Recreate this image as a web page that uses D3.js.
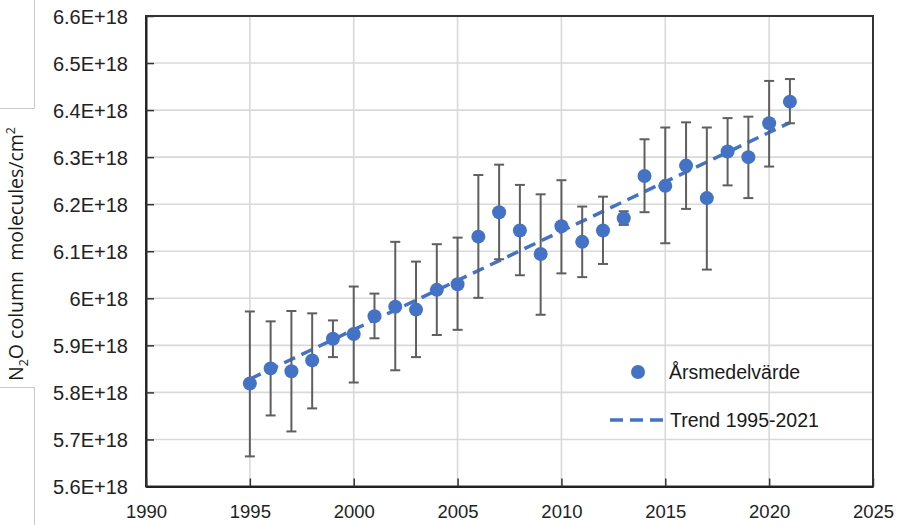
<!DOCTYPE html>
<html>
<head>
<meta charset="utf-8">
<script src="https://cdn.jsdelivr.net/npm/d3@7"></script>
<style>
  html, body { margin: 0; padding: 0; background: #fff; }
  svg { display: block; }
</style>
</head>
<body>
<svg id="chart" width="898" height="525"></svg>
<script>
// Annual mean N2O total column (units of 1e18 molecules/cm2) with error bars
const years = [1995, 1996, 1997, 1998, 1999, 2000, 2001, 2002, 2003, 2004, 2005, 2006, 2007,
               2008, 2009, 2010, 2011, 2012, 2013, 2014, 2015, 2016, 2017, 2018, 2019, 2020, 2021];
const annualMean = [5.819, 5.851, 5.845, 5.868, 5.914, 5.924, 5.962, 5.982, 5.976, 6.018, 6.030, 6.131, 6.183,
                    6.144, 6.094, 6.153, 6.120, 6.144, 6.170, 6.260, 6.239, 6.282, 6.213, 6.312, 6.300, 6.372, 6.418];
const errHigh = [5.972, 5.951, 5.973, 5.968, 5.953, 6.025, 6.010, 6.120, 6.078, 6.115, 6.129, 6.262, 6.284,
                 6.241, 6.221, 6.251, 6.195, 6.216, 6.185, 6.338, 6.363, 6.374, 6.363, 6.383, 6.386, 6.462, 6.466];
const errLow = [5.664, 5.751, 5.717, 5.766, 5.875, 5.821, 5.915, 5.847, 5.875, 5.922, 5.933, 6.001, 6.083,
                6.049, 5.965, 6.053, 6.045, 6.073, 6.156, 6.183, 6.117, 6.190, 6.061, 6.240, 6.213, 6.280, 6.372];

const xTicks = [1990, 1995, 2000, 2005, 2010, 2015, 2020, 2025];
const yTicks = [5.6, 5.7, 5.8, 5.9, 6.0, 6.1, 6.2, 6.3, 6.4, 6.5, 6.6];
const legendLabels = ["Årsmedelvärde", "Trend 1995-2021"];

const blue = "#4472C4";
const svg = d3.select("#chart");

const x = d3.scaleLinear().domain([1990, 2025]).range([146, 873]);
const y = d3.scaleLinear().domain([5.6, 6.6]).range([486.5, 16]);

const fmtY = v => (Math.round(v * 10) / 10) + "E+18";

// Gridlines
svg.append("g").selectAll("line.h").data(yTicks.slice(1, -1)).join("line")
  .attr("x1", x(1990)).attr("x2", x(2025))
  .attr("y1", d => y(d)).attr("y2", d => y(d))
  .attr("stroke", "#d9d9d9").attr("stroke-width", 1.6);
svg.append("g").selectAll("line.v").data(xTicks.slice(1, -1)).join("line")
  .attr("y1", y(5.6)).attr("y2", y(6.6))
  .attr("x1", d => x(d)).attr("x2", d => x(d))
  .attr("stroke", "#d9d9d9").attr("stroke-width", 1.6);

// Plot frame
svg.append("rect")
  .attr("x", x(1990)).attr("y", y(6.6))
  .attr("width", x(2025) - x(1990)).attr("height", y(5.6) - y(6.6))
  .attr("fill", "none").attr("stroke", "#333").attr("stroke-width", 2);

// Axes with inward ticks
const yAxis = d3.axisLeft(y).tickValues(yTicks).tickSizeInner(-8).tickSizeOuter(0).tickFormat(fmtY);
const gy = svg.append("g").attr("transform", `translate(${x(1990)},0)`).call(yAxis);
gy.select(".domain").attr("stroke", "#222").attr("stroke-width", 2);
gy.selectAll(".tick line").attr("stroke", "#333").attr("stroke-width", 1.5);
gy.selectAll(".tick text")
  .attr("x", -18).attr("dy", "0.35em")
  .attr("font-family", "'Liberation Sans', Arial, sans-serif")
  .attr("font-size", 20).attr("fill", "#222");

const xAxis = d3.axisBottom(x).tickValues(xTicks).tickSizeInner(-8).tickSizeOuter(0).tickFormat(d3.format("d"));
const gx = svg.append("g").attr("transform", `translate(0,${y(5.6)})`).call(xAxis);
gx.select(".domain").attr("stroke", "#222").attr("stroke-width", 2);
gx.selectAll(".tick line").attr("stroke", "#333").attr("stroke-width", 1.5);
gx.selectAll(".tick text")
  .attr("y", 31).attr("dy", 0)
  .attr("font-family", "'Liberation Sans', Arial, sans-serif")
  .attr("font-size", 18.5).attr("fill", "#222");

// Linear trend fitted to the annual means
const n = years.length;
const mx = d3.mean(years), my = d3.mean(annualMean);
let sxy = 0, sxx = 0;
years.forEach((yr, i) => { sxy += (yr - mx) * (annualMean[i] - my); sxx += (yr - mx) ** 2; });
const slope = sxy / sxx, intercept = my - slope * mx;
const trendYears = [years[0], years[n - 1]];
svg.append("path")
  .datum(trendYears)
  .attr("d", d3.line().x(d => x(d)).y(d => y(intercept + slope * d)))
  .attr("fill", "none").attr("stroke", blue).attr("stroke-width", 3.5)
  .attr("stroke-dasharray", "12,7");

// Error bars
const data = years.map((yr, i) => ({ yr, v: annualMean[i], hi: errHigh[i], lo: errLow[i] }));
const eb = svg.append("g").attr("stroke", "#5f5f5f").attr("stroke-width", 2);
eb.selectAll("line.stem").data(data).join("line")
  .attr("x1", d => x(d.yr)).attr("x2", d => x(d.yr))
  .attr("y1", d => y(d.hi)).attr("y2", d => y(d.lo));
eb.selectAll("line.capHi").data(data).join("line")
  .attr("x1", d => x(d.yr) - 5).attr("x2", d => x(d.yr) + 5)
  .attr("y1", d => y(d.hi)).attr("y2", d => y(d.hi));
eb.selectAll("line.capLo").data(data).join("line")
  .attr("x1", d => x(d.yr) - 5).attr("x2", d => x(d.yr) + 5)
  .attr("y1", d => y(d.lo)).attr("y2", d => y(d.lo));

// Annual mean markers
svg.append("g").selectAll("circle").data(data).join("circle")
  .attr("cx", d => x(d.yr)).attr("cy", d => y(d.v)).attr("r", 7)
  .attr("fill", blue);

// Legend
const lg = svg.append("g").attr("font-family", "'Liberation Sans', Arial, sans-serif")
  .attr("font-size", 19.5).attr("fill", "#1a1a1a");
lg.append("circle").attr("cx", 638).attr("cy", 372).attr("r", 7).attr("fill", blue);
lg.append("text").attr("x", 669).attr("y", 372).attr("dy", "0.35em").text(legendLabels[0]);
lg.append("line").attr("x1", 610).attr("x2", 664).attr("y1", 420).attr("y2", 420)
  .attr("stroke", blue).attr("stroke-width", 3.5).attr("stroke-dasharray", "13,7");
lg.append("text").attr("x", 670).attr("y", 420).attr("dy", "0.35em").text(legendLabels[1]);

// Y-axis title panel
const panel = svg.append("g");
panel.append("line").attr("x1", 34.5).attr("x2", 34.5).attr("y1", 0).attr("y2", 108)
  .attr("stroke", "#c8c8c8").attr("stroke-width", 1);
panel.append("line").attr("x1", 34.5).attr("x2", 34.5).attr("y1", 387).attr("y2", 525)
  .attr("stroke", "#c8c8c8").attr("stroke-width", 1);
panel.append("line").attr("x1", 0).attr("x2", 34.5).attr("y1", 108.5).attr("y2", 108.5)
  .attr("stroke", "#c8c8c8").attr("stroke-width", 1);
panel.append("line").attr("x1", 0).attr("x2", 34.5).attr("y1", 387.5).attr("y2", 387.5)
  .attr("stroke", "#c8c8c8").attr("stroke-width", 1);

const title = panel.append("text")
  .attr("transform", "translate(23,254) rotate(-90)")
  .attr("text-anchor", "middle")
  .attr("font-family", "'Open Sans', sans-serif")
  .attr("font-size", 19.5).attr("fill", "#1a1a1a")
  .attr("xml:space", "preserve");
title.append("tspan").text("N");
title.append("tspan").attr("dy", 5).attr("font-size", 12.5).text("2");
title.append("tspan").attr("dy", -5).text("O column  molecules/cm");
title.append("tspan").attr("dy", -8).attr("font-size", 12.5).text("2");
</script>
</body>
</html>
